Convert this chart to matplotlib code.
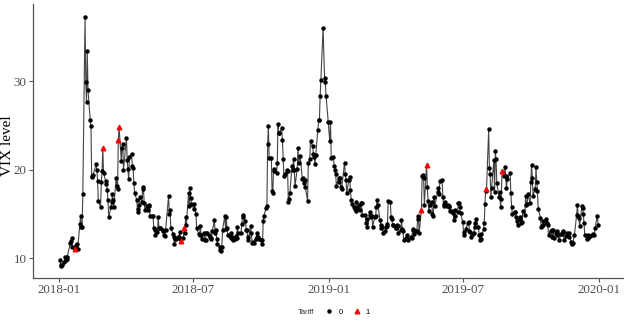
# VIX daily close 2018-2019 with tariff announcement days highlighted

import numpy as np
import pandas as pd
import matplotlib
matplotlib.use("Agg")
import matplotlib.pyplot as plt
import matplotlib.dates as mdates
from matplotlib.lines import Line2D

# market holidays (NYSE) for the trading-day calendar
holidays = ["2018-01-01", "2018-01-15", "2018-02-19", "2018-03-30", "2018-05-28",
            "2018-07-04", "2018-09-03", "2018-11-22", "2018-12-05", "2018-12-25",
            "2019-01-01", "2019-01-21", "2019-02-18", "2019-04-19", "2019-05-27",
            "2019-07-04", "2019-09-02", "2019-11-28", "2019-12-25"]

vix_2018 = [
    # jan
    9.77, 9.15, 9.22, 9.22, 9.52, 10.08, 9.82, 9.88, 10.16, 11.66, 11.91, 12.22,
    11.27, 11.03, 11.10, 11.47, 11.58, 11.08, 13.84, 14.79, 13.54,
    # feb
    13.47, 17.31, 37.32, 29.98, 27.73, 33.46, 29.06, 25.61, 24.97, 19.26, 19.13,
    19.46, 20.60, 20.02, 18.72, 16.49, 15.80, 18.59, 19.85,
    # mar
    22.47, 19.59, 18.73, 18.36, 17.76, 16.54, 14.64, 15.78, 16.35, 17.23, 16.59,
    15.80, 19.02, 18.20, 17.86, 23.34, 24.87, 21.03, 22.50, 22.87, 19.97,
    # apr
    23.62, 21.10, 20.06, 18.94, 21.49, 21.77, 20.47, 20.24, 18.49, 17.41, 16.56,
    15.25, 15.60, 15.96, 16.88, 16.34, 18.02, 17.84, 16.24, 15.41, 15.93,
    # may
    15.49, 15.97, 15.90, 14.77, 14.75, 14.71, 13.42, 13.23, 12.65, 12.93, 14.63,
    13.42, 13.43, 13.42, 13.08, 13.22, 12.58, 12.53, 13.22, 17.02, 14.94, 15.43,
    # jun
    13.46, 12.74, 12.40, 11.64, 12.13, 12.18, 12.35, 12.34, 12.94, 12.12, 11.98,
    12.31, 13.35, 12.79, 14.64, 13.77, 17.33, 15.92, 17.91, 16.85, 16.09,
    # jul
    15.60, 16.14, 14.97, 13.37, 12.69, 12.64, 13.63, 12.58, 12.18, 12.83, 12.06,
    12.10, 12.87, 12.86, 12.62, 12.41, 12.29, 12.14, 13.03, 14.26, 12.83,
    # aug
    13.15, 12.19, 11.64, 11.27, 10.93, 10.85, 11.27, 13.16, 14.78, 13.31, 14.64,
    13.45, 12.64, 12.49, 12.86, 12.25, 12.41, 11.99, 12.16, 12.50, 12.25, 13.53, 12.86,
    # sep
    12.88, 13.91, 14.65, 14.88, 14.16, 13.22, 13.14, 12.37, 12.07, 13.68, 12.79,
    11.75, 11.80, 11.68, 12.20, 12.42, 12.89, 12.41, 12.12,
    # oct
    12.00, 12.05, 11.61, 14.22, 14.82, 15.69, 15.95, 22.96, 24.98, 21.31, 21.30,
    17.62, 17.40, 20.06, 19.89, 19.64, 20.71, 25.23, 24.22, 24.16, 24.70, 23.35, 21.23,
    # nov
    19.34, 19.51, 19.96, 19.91, 16.36, 16.72, 17.36, 20.45, 20.02, 21.25, 19.98,
    18.14, 20.10, 22.48, 20.80, 21.52, 18.90, 19.02, 18.49, 18.79, 18.07,
    # dec
    16.44, 20.74, 21.19, 23.23, 22.64, 21.76, 21.46, 20.65, 21.63, 24.52, 25.58,
    25.58, 28.38, 30.11, 36.07, 30.41, 29.96, 28.34, 25.42]

vix_2019 = [
    # jan
    23.22, 25.45, 21.38, 21.40, 20.47, 19.98, 19.50, 18.19, 19.07, 18.60, 19.04,
    18.06, 17.80, 20.80, 19.52, 18.89, 17.42, 18.87, 19.13, 17.66, 16.57,
    # feb
    16.14, 15.73, 15.57, 15.38, 16.37, 15.72, 15.97, 15.43, 16.22, 16.22, 14.91,
    14.88, 14.02, 14.46, 13.51, 14.85, 15.17, 14.70, 14.78,
    # mar
    13.57, 14.63, 14.74, 15.74, 16.59, 16.05, 14.33, 13.77, 13.41, 13.50, 12.88,
    13.10, 13.56, 13.91, 13.63, 16.48, 16.33, 14.68, 14.43, 13.71, 13.71,
    # apr
    13.40, 13.36, 13.74, 13.58, 12.82, 13.18, 14.28, 13.30, 13.02, 12.01, 12.32,
    12.18, 12.60, 12.09, 12.42, 12.28, 13.14, 13.25, 12.73, 13.11, 13.12,
    # may
    14.80, 14.42, 12.87, 15.44, 19.32, 19.40, 19.10, 16.04, 20.55, 18.06, 16.44,
    15.29, 15.96, 16.31, 14.95, 14.75, 16.92, 15.85, 17.50, 17.90, 17.30, 18.71,
    # jun
    18.86, 16.97, 16.09, 15.93, 16.30, 15.94, 15.99, 15.91, 15.82, 15.28, 15.35,
    15.15, 14.33, 14.75, 15.40, 15.26, 16.28, 16.21, 15.82, 15.08,
    # jul
    14.06, 12.93, 12.57, 13.28, 13.96, 14.09, 13.03, 12.93, 12.39, 12.68, 12.86,
    13.97, 13.53, 14.45, 13.53, 12.61, 12.07, 12.74, 12.16, 13.24, 13.94, 16.12,
    # aug
    17.87, 17.61, 24.59, 20.17, 19.49, 16.91, 17.97, 21.09, 17.52, 22.10, 21.18,
    18.47, 16.88, 17.50, 15.80, 16.68, 19.87, 19.32, 20.31, 19.35, 17.88, 18.98,
    # sep
    19.66, 17.33, 15.82, 15.00, 15.27, 15.20, 14.61, 14.22, 13.74, 14.67, 14.44,
    13.95, 14.05, 15.32, 14.91, 17.05, 15.96, 16.07, 17.22, 16.24,
    # oct
    18.56, 20.56, 19.12, 17.04, 17.86, 20.28, 18.64, 17.57, 15.58, 14.57, 13.54,
    13.68, 13.79, 14.25, 14.00, 14.46, 14.01, 13.71, 12.65, 13.11, 13.20, 12.33, 13.22,
    # nov
    12.30, 12.83, 13.10, 12.62, 12.73, 12.07, 12.69, 12.68, 13.00, 13.05, 12.05,
    12.46, 12.86, 12.78, 12.88, 12.34, 11.87, 11.54, 11.75, 12.62,
    # dec
    14.91, 15.96, 14.80, 14.52, 13.62, 15.86, 15.68, 14.99, 13.94, 12.63, 12.14,
    12.29, 12.58, 12.50, 12.51, 12.61, 12.67, 12.65, 13.43, 14.82, 13.78]

# days flagged as tariff events (Tariff = 1)
tariff_days = ["2018-01-22", "2018-03-01", "2018-03-22", "2018-03-23", "2018-06-15",
               "2018-06-19", "2019-05-06", "2019-05-13", "2019-08-01", "2019-08-23"]

dates = pd.bdate_range("2018-01-02", "2019-12-31")
dates = dates[~dates.isin(pd.to_datetime(holidays))]
df = pd.DataFrame({"date": dates, "vix": vix_2018 + vix_2019})
df["tariff"] = df["date"].isin(pd.to_datetime(tariff_days)).astype(int)

fig = plt.figure(figsize=(6.24, 3.21), dpi=100)
ax = fig.add_axes([33/624, 43/321, 592/624, 273.6/321])

ax.plot(df["date"], df["vix"], color="#444444", linewidth=0.8, zorder=1)
t0 = df[df["tariff"] == 0]
t1 = df[df["tariff"] == 1]
ax.plot(t0["date"], t0["vix"], "o", color="black", markersize=2.2, zorder=2)
ax.plot(t1["date"], t1["vix"], "^", color="red", markersize=3.3, zorder=3)

# ggplot-like 5% expansion
span = df["date"].max() - df["date"].min()
ax.set_xlim(df["date"].min() - span * 0.05, df["date"].max() + span * 0.05)
yr = df["vix"].max() - df["vix"].min()
ax.set_ylim(df["vix"].min() - yr * 0.05, df["vix"].max() + yr * 0.05)

ax.xaxis.set_major_locator(mdates.MonthLocator(bymonth=[1, 7]))
ax.xaxis.set_major_formatter(mdates.DateFormatter("%Y-%m"))
ax.set_yticks([10, 20, 30])

for s in ["top", "right"]:
    ax.spines[s].set_visible(False)
for s in ["left", "bottom"]:
    ax.spines[s].set_color("#555555")
    ax.spines[s].set_linewidth(0.9)
ax.tick_params(length=3, width=0.8, color="#555555", labelcolor="#4d4d4d",
               labelsize=9.3, pad=1.5)
for lab in ax.get_xticklabels() + ax.get_yticklabels():
    lab.set_family("Liberation Serif")

# y title placed by hand so it stays inside the narrow left margin
fig.text(7.7/624, 1 - 146/321, "VIX level", family="Liberation Serif", fontsize=11,
         rotation=90, ha="center", va="center")

# legend at bottom
fig.text(298/624, 1 - 312/321, "Tariff", family="Liberation Sans", fontsize=5.5,
         color="#333333", ha="left", va="center")
handles = [Line2D([], [], marker="o", color="black", linestyle="none", markersize=2.2),
           Line2D([], [], marker="^", color="red", linestyle="none", markersize=3.3)]
fig.legend(handles, ["0", "1"], ncol=2, frameon=False, loc="center left",
           bbox_to_anchor=(318/624, 1 - 312/321), handlelength=1.2,
           handletextpad=0.6, columnspacing=1.2, prop={"family": "Liberation Sans", "size": 5.5})

plt.savefig("out.png", dpi=100)
